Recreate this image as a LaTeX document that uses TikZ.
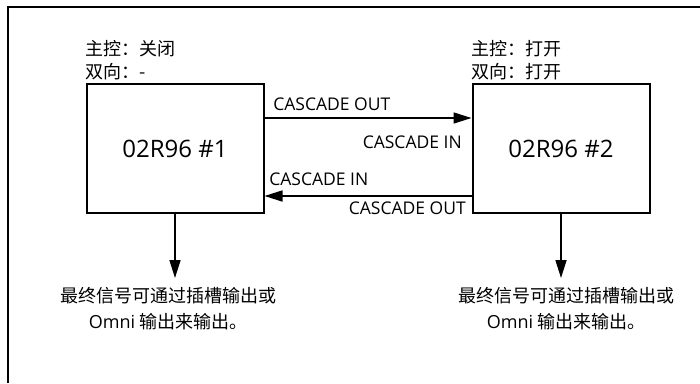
\documentclass[tikz,border=0pt]{standalone}
\usepackage{fontspec}
\setmainfont{Open Sans}
\newfontfamily\cjk{Noto Sans CJK SC}
\usepackage{tikz}
\usetikzlibrary{arrows.meta}

\tikzset{
  mixer/.style={draw,line width=2pt,minimum width=177pt,minimum height=129pt,font=\fontsize{24}{28}\selectfont},
  flow/.style={line width=1.6pt,-{Triangle[length=18pt,width=11pt]}},
  port/.style={inner sep=0pt,font=\fontsize{17.5}{20}\selectfont},
  cjktext/.style={inner sep=0pt,font=\cjk\fontsize{18}{23}\selectfont}
}

\begin{document}
\begin{tikzpicture}[x=1pt,y=-1pt]
\useasboundingbox (0,0) rectangle (700,383);
\draw[line width=2pt] (8,383) -- (8,7) -- (700,7);
\foreach \i/\x/\m/\b/\t in {1/175/关闭/-/168,2/561/打开/打开/566} {
  \node[mixer] (mix\i) at (\x,148.5) {02R96 \#\i};
  \node[cjktext,align=left,anchor=south west,yshift=3pt] (state\i) at (mix\i.north west) {主控：\m\\双向：\b};
  \node[cjktext,align=center,anchor=north,inner ysep=9pt,font=\cjk\fontsize{18}{26}\selectfont] (final\i) at (\t,278)
    {最终信号可通过插槽输出或\\{\normalfont Omni} 输出来输出。};
  \draw[flow] (mix\i.south) -- (mix\i.south |- final\i.north);
}
\draw[flow] ([yshift=30.5pt]mix1.east) --
  node[port,pos=0,anchor=south west,xshift=8pt,yshift=7pt] (outA) {CASCADE OUT}
  node[port,pos=1,anchor=north east,xshift=-9pt,yshift=-17pt] (inB) {CASCADE IN}
  ([yshift=30.5pt]mix2.west);
\draw[flow] ([yshift=-47.5pt]mix2.west) --
  node[port,pos=0,anchor=north east,xshift=-5pt,yshift=-5pt] (outB) {CASCADE OUT}
  node[port,pos=1,anchor=south west,xshift=4pt,yshift=10pt] (inA) {CASCADE IN}
  ([yshift=-47.5pt]mix1.east);
\end{tikzpicture}
\end{document}
